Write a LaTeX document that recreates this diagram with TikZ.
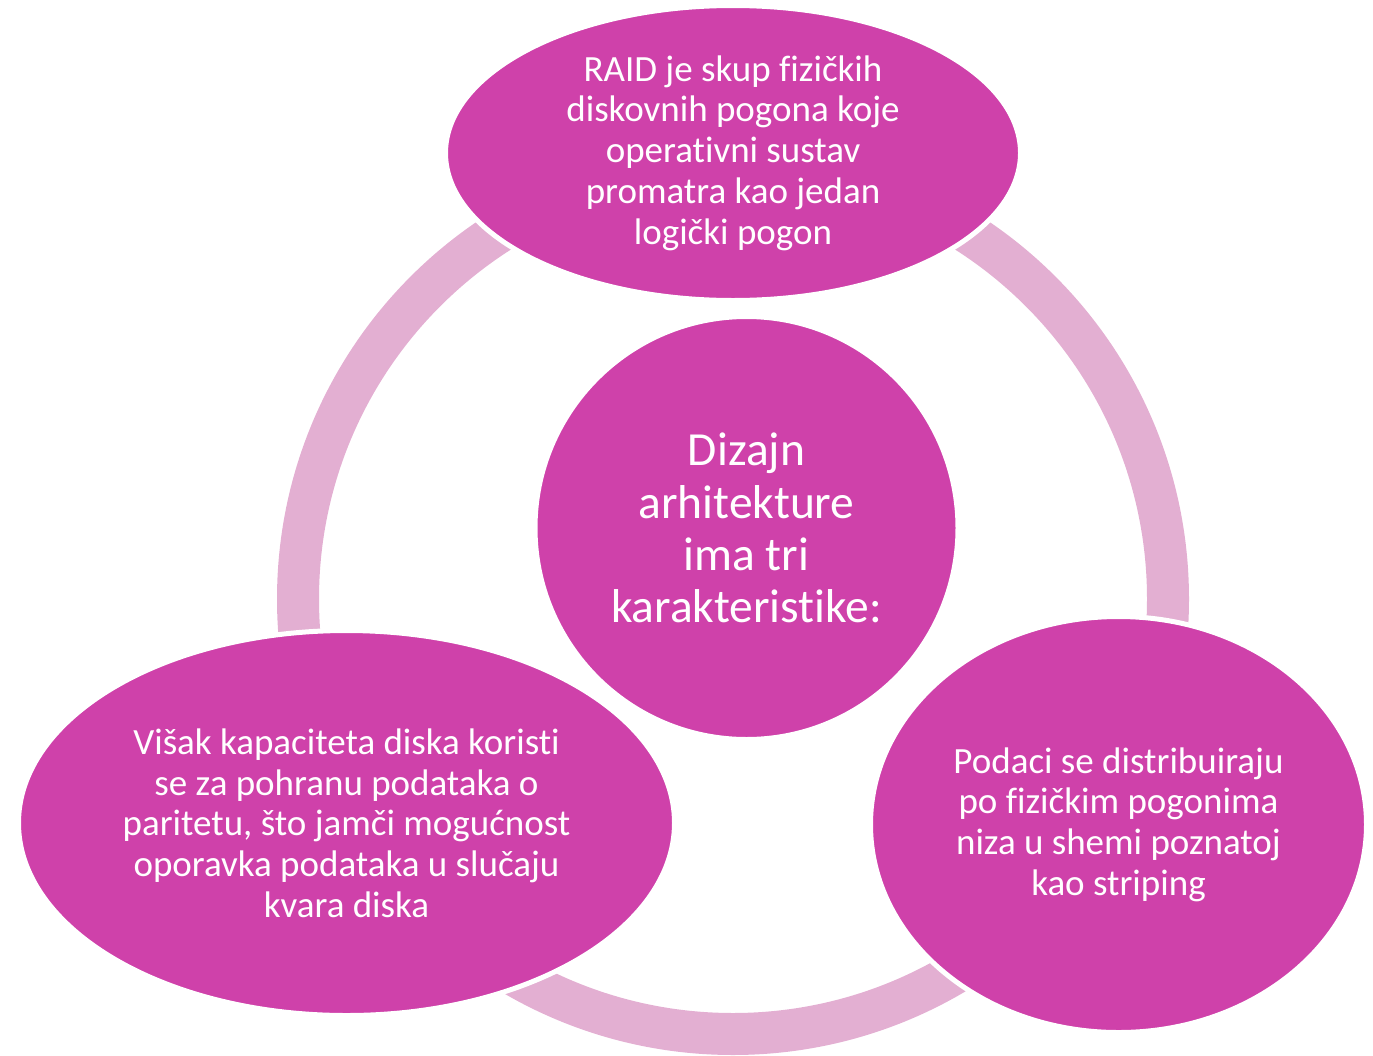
\documentclass[tikz,border=0pt]{standalone}
\usepackage{fontspec}
\setmainfont{Carlito}[Ligatures=NoCommon]
\usetikzlibrary{shapes.geometric}
\begin{document}
\begin{tikzpicture}[x=1pt, y=-1pt, blob/.style={
                ellipse,
                fill=blobcolor,
                draw=white,
                inner sep=0pt,
                line width=5pt
              },
              sidetext/.style={text=white, align=center, font=\fontsize{37pt}{40.7pt}\selectfont},
              hubtext/.style={text=white, align=center, font=\fontsize{47.5pt}{52.3pt}\selectfont}]
            % Define colors
            \definecolor{blobcolor}{RGB}{207, 65, 170}
            \definecolor{ringcolor}{RGB}{227, 175, 210}

        \useasboundingbox (0,0) rectangle (1373,1055);

        % ring behind the nodes
        \draw[ringcolor, line width=42pt] (733,599) circle[radius=435pt];

        \node[blob, minimum width=575pt, minimum height=295pt] (raid) at (733,153) {};
        \node[sidetext] (raid text) at (raid.center) {RAID je skup fizičkih\\diskovnih pogona koje\\operativni sustav\\promatra kao jedan\\logički pogon};

        \node[blob, circle, minimum size=423pt] (hub) at (746.5,528) {};
        \node[hubtext] (hub text) at (hub.center) {Dizajn\\arhitekture\\ima tri\\karakteristike:};

        \node[blob, minimum width=656pt, minimum height=385pt] (parity) at (346.5,823) {};
        \node[sidetext] (parity text) at (parity.center) {Višak kapaciteta diska koristi\\se za pohranu podataka o\\paritetu, što jamči mogućnost\\oporavka podataka u slučaju\\kvara diska};

        \node[blob, minimum width=496pt, minimum height=416pt] (striping) at (1118.5,824.5) {};
        \node[sidetext] (striping text) at (striping.center) {Podaci se distribuiraju\\po fizičkim pogonima\\niza u shemi poznatoj\\kao striping};

\end{tikzpicture}
\end{document}
